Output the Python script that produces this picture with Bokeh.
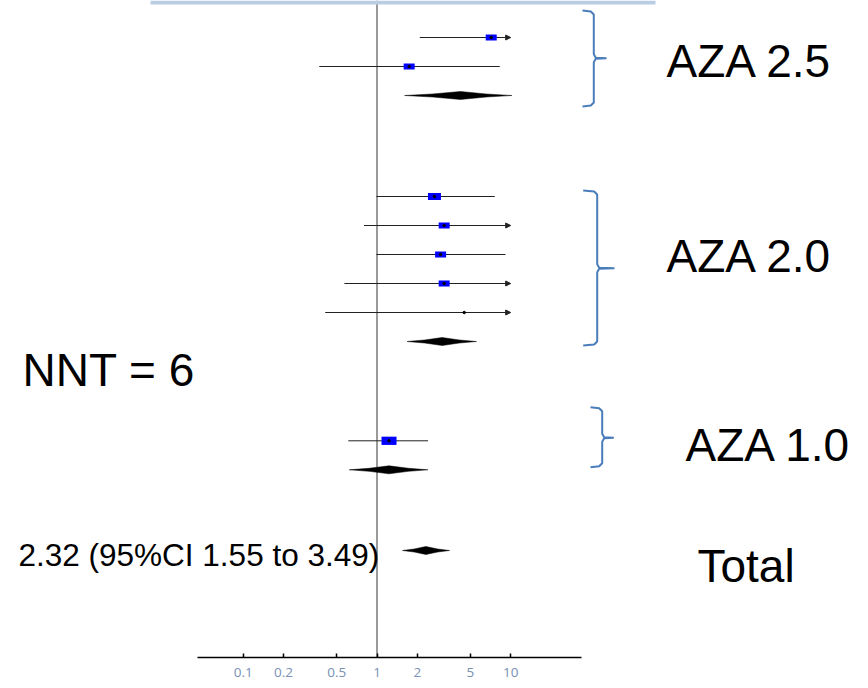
import math
from bokeh.plotting import figure
from bokeh.models import (ColumnDataSource, Range1d, FixedTicker, CustomJSTickFormatter,
                          Span, Arrow, NormalHead)
from bokeh.embed import file_html
from bokeh.resources import INLINE
from bokeh.core.properties import value

# ---------------- data ----------------
group_names = ["AZA 2.5", "AZA 2.0", "AZA 1.0"]
study_group = [0, 0, 1, 1, 1, 1, 1, 2]
study_or = [7.15, 1.74, 2.69, 3.18, 2.99, 3.18, 4.49, 1.23]
study_lo = [2.09, 0.37, 0.99, 0.80, 0.99, 0.57, 0.41, 0.61]
study_hi = [24.0, 8.28, 7.60, 12.6, 9.14, 17.4, 49.0, 2.41]
study_weight = [11.1, 11.1, 15.5, 11.1, 11.1, 11.1, 0.4, 20.7]
pooled_or = [4.21, 3.07, 1.23]
pooled_lo = [1.61, 1.68, 0.62]
pooled_hi = [10.2, 5.55, 2.40]
total_or, total_lo, total_hi = 2.32, 1.55, 3.49
nnt = 6
tick_values = [0.1, 0.2, 0.5, 1, 2, 5, 10]
display_max = 10

# ---------------- layout ----------------
W, H = 868, 688
AXIS_Y = 657
X1_PX = 376.5
DEC_PX = 133.7


def px2x(px):
    return 10 ** ((px - X1_PX) / DEC_PX)


ROW = 29
group_first_y = [37, 196, 440.3]
total_y = 550
DIAMOND_HALF = 4
FONT = "Liberation Sans"
BRACKET_COLOR = "#4a7ebb"
BIG = 46
SMALL = 31.5
BASE_SHIFT = 0.37  # svg baseline compensation (fraction of font size)

# row positions
counts = [study_group.count(g) for g in range(len(group_names))]
study_y = []
seen = [0] * len(group_names)
for g in study_group:
    study_y.append(group_first_y[g] + ROW * seen[g])
    seen[g] += 1
pooled_y = [group_first_y[g] + ROW * counts[g] for g in range(len(group_names))]

p = figure(width=W, height=H, x_axis_type="log",
           x_range=Range1d(px2x(0), px2x(W)), y_range=Range1d(AXIS_Y, 0),
           y_axis_location=None, toolbar_location=None, output_backend="svg",
           min_border_left=0, min_border_right=0, min_border_top=0,
           min_border_bottom=H - AXIS_Y)
p.xgrid.visible = False
p.ygrid.visible = False
p.outline_line_color = None
p.background_fill_color = "white"
p.border_fill_color = "white"

# null-effect line
p.add_layout(Span(location=1, dimension="height", line_color="#9a9a9a",
                  line_width=2, level="underlay"))

# CI lines
seg = dict(x0=[], x1=[], y=[])
arr = dict(x0=[], x1=[], y=[])
for lo, hi, y in zip(study_lo, study_hi, study_y):
    if hi > display_max:
        arr["x0"].append(lo); arr["x1"].append(display_max); arr["y"].append(y)
    else:
        seg["x0"].append(lo); seg["x1"].append(hi); seg["y"].append(y)
p.segment(x0="x0", x1="x1", y0="y", y1="y", source=ColumnDataSource(seg),
          line_color="#222222", line_width=1)
p.add_layout(Arrow(end=NormalHead(size=5, fill_color="#222222", line_color="#222222"),
                   x_start="x0", y_start="y", x_end="x1", y_end="y",
                   source=ColumnDataSource(arr), line_color="#222222", line_width=1,
                   level="underlay"))

# weight squares
sq_w = [3.3 * math.sqrt(w) for w in study_weight]
sq_h = [0.55 * w for w in sq_w]
p.rect(x="x", y="y", width="w", height="h", width_units="screen", height_units="screen",
       source=ColumnDataSource(dict(x=study_or, y=study_y, w=sq_w, h=sq_h)),
       fill_color="#0000ff", line_color=None)
p.scatter(x=study_or, y=study_y, size=2.5, color="black")

# pooled diamonds (slightly pinched tips)
all_c = pooled_or + [total_or]
all_lo = pooled_lo + [total_lo]
all_hi = pooled_hi + [total_hi]
all_y = pooled_y + [total_y]


def gmid(a, b):
    return math.sqrt(a * b)


xs, ys = [], []
for lo, c, hi, y in zip(all_lo, all_c, all_hi, all_y):
    ml, mr = gmid(lo, c), gmid(c, hi)
    inner = DIAMOND_HALF * 0.38
    xs.append([lo, ml, c, mr, hi, mr, c, ml])
    ys.append([y, y - inner, y - DIAMOND_HALF, y - inner, y, y + inner,
               y + DIAMOND_HALF, y + inner])
p.patches(xs=xs, ys=ys, fill_color="black", line_color="black", line_width=0.5)

# top band
p.quad(left=px2x(150), right=px2x(655), top=0, bottom=4, fill_color="#b9cde5",
       line_color=None)


# brackets
def bracket(left, vert, tip, top, mid, bottom):
    pts = [(left, top), (vert - 3, top + 1), (vert, top + 4), (vert, mid - 4),
           (vert + 2, mid - 0.5), (tip, mid), (vert + 2, mid + 0.5), (vert, mid + 4),
           (vert, bottom - 4), (vert - 3, bottom - 1), (left, bottom)]
    return [px2x(a) for a, _ in pts], [b for _, b in pts]


bracket_specs = [(582, 593.3, 606, 10, 57.7, 106),
                 (582.7, 596.7, 614, 190, 267.7, 345),
                 (590, 601.7, 613.3, 406.7, 437.3, 466.7)]
bxs, bys = [], []
for spec in bracket_specs:
    bx, by = bracket(*spec)
    bxs.append(bx); bys.append(by)
p.multi_line(xs=bxs, ys=bys, line_color=BRACKET_COLOR, line_width=2)

# texts (positions = left edge, baseline)
big_pos = [(666, 78), (666, 273), (685, 462), (697, 583), (22, 387)]
txt = dict(x=[px2x(a) for a, _ in big_pos],
           y=[b - BASE_SHIFT * BIG for _, b in big_pos],
           t=group_names + ["Total", f"NNT = {nnt}"])
p.text(x="x", y="y", text="t", source=ColumnDataSource(txt),
       text_font=value(FONT), text_font_size=value(f"{BIG}px"), text_color="black",
       text_align="left", text_baseline="alphabetic")
p.text(x=[px2x(18)], y=[566 - BASE_SHIFT * SMALL],
       text=[f"{total_or:.2f} (95%CI {total_lo:.2f} to {total_hi:.2f})"],
       text_font=value(FONT), text_font_size=value(f"{SMALL}px"), text_color="black",
       text_align="left", text_baseline="alphabetic")

# axis
ax = p.xaxis[0]
ax.ticker = FixedTicker(ticks=tick_values, minor_ticks=[])
ax.formatter = CustomJSTickFormatter(code="return String(tick)")
ax.bounds = (px2x(197), px2x(581))
ax.axis_line_width = 1.5
ax.axis_line_color = "black"
ax.major_tick_in = 4
ax.major_tick_out = 0
ax.major_tick_line_width = 1.5
ax.minor_tick_line_color = None
ax.major_label_text_color = "#7890b4"
ax.major_label_text_font = "Open Sans"
ax.major_label_text_font_size = "13.5px"
ax.major_label_standoff = 10

open("out.html", "w").write(file_html(p, INLINE))
